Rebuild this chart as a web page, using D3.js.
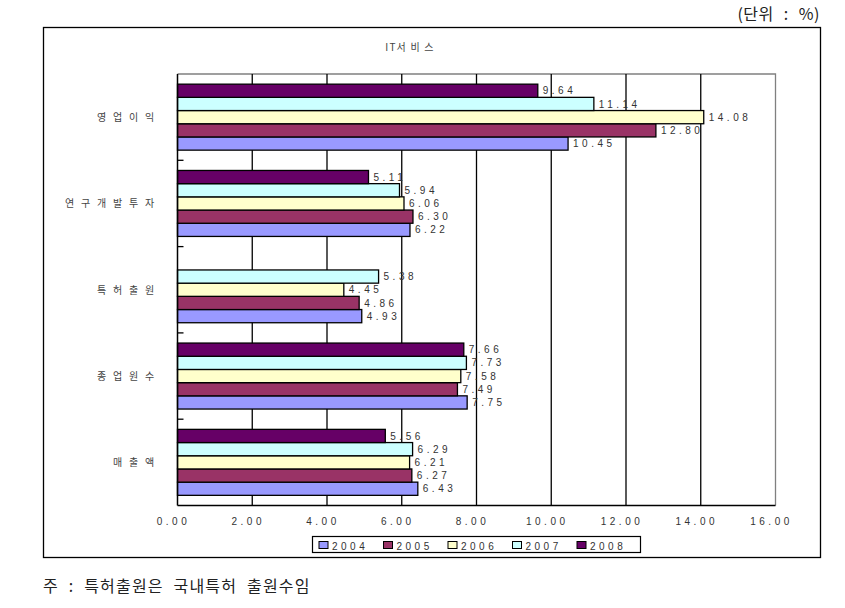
<!DOCTYPE html>
<html><head><meta charset="utf-8">
<script src="https://cdn.jsdelivr.net/npm/d3@7"></script>
<style>
body{margin:0;background:#fff;}
svg{display:block;}
</style></head>
<body>
<svg id="chart" width="845" height="608"></svg>
<script>
const categories = ["영업이익", "연구개발투자", "특허출원", "종업원수", "매출액"];
const years = ["2004", "2005", "2006", "2007", "2008"];
const v2004 = [10.45, 6.22, 4.93, 7.75, 6.43];
const v2005 = [12.80, 6.30, 4.86, 7.49, 6.27];
const v2006 = [14.08, 6.06, 4.45, 7.58, 6.21];
const v2007 = [11.14, 5.94, 5.38, 7.73, 6.29];
const v2008 = [9.64, 5.11, null, 7.66, 5.56];
const xTicks = [0, 2, 4, 6, 8, 10, 12, 14, 16];
const colors = ["#9999FF", "#993366", "#FFFFCC", "#CCFFFF", "#660066"];

const seriesVals = [v2004, v2005, v2006, v2007, v2008];
const svg = d3.select("#chart");
const latin = "Arial, 'Liberation Sans', sans-serif";
const kr = "'Noto Sans CJK KR', 'Noto Sans', sans-serif";

const L = 177.5, R = 775.5, T = 74, B = 505.5;

// outer box
svg.append("rect").attr("x", 43.5).attr("y", 27.5).attr("width", 777).attr("height", 530)
  .attr("fill", "none").attr("stroke", "#000").attr("stroke-width", 1.3);

svg.append("text").attr("x", 820).attr("y", 20).attr("text-anchor", "end")
  .attr("font-family", kr).attr("font-size", 16).attr("letter-spacing", 0.5).attr("word-spacing", 6)
  .attr("fill", "#222").text("(단위 : %)");

svg.append("text").attr("x", 410).attr("y", 51).attr("text-anchor", "middle")
  .attr("font-family", kr).attr("font-size", 10).attr("letter-spacing", 1.2).attr("fill", "#444").text("IT서 비 스");

const x = d3.scaleLinear().domain([0, 16]).range([L, R]);
const y = d3.scaleBand().domain(categories).range([T, B]).padding(0);
const yearsTB = years.slice().reverse();
const yi = d3.scaleBand().domain(yearsTB).range([0, y.bandwidth()]).paddingInner(0).paddingOuter(0.77);

// plot border (gray top/right)
svg.append("path").attr("d", `M${L},${T}H${R}V${B}`).attr("fill", "none").attr("stroke", "#808080").attr("stroke-width", 1.3);

// gridlines
svg.append("g").selectAll("line").data(xTicks.filter(d => d > 0 && d < 16)).join("line")
  .attr("x1", d => x(d)).attr("x2", d => x(d)).attr("y1", T).attr("y2", B)
  .attr("stroke", "#000").attr("stroke-width", 1.3);

// bars
const data = [];
categories.forEach((c, ci) => {
  years.forEach((yr, si) => {
    const v = seriesVals[si][ci];
    if (v != null) data.push({c, yr, si, v});
  });
});
svg.append("g").selectAll("rect").data(data).join("rect")
  .attr("x", x(0)).attr("y", d => y(d.c) + yi(d.yr))
  .attr("width", d => x(d.v) - x(0)).attr("height", yi.bandwidth())
  .attr("fill", d => colors[d.si]).attr("stroke", "#000").attr("stroke-width", 1.3);

svg.append("g").selectAll("text").data(data).join("text")
  .attr("x", d => x(d.v) + 5).attr("y", d => y(d.c) + yi(d.yr) + yi.bandwidth() / 2 + 3.6)
  .attr("font-family", latin).attr("font-size", 10).attr("letter-spacing", 3.5).attr("fill", "#333")
  .text(d => d.v.toFixed(2));

// y axis
svg.append("line").attr("x1", L).attr("x2", L).attr("y1", T).attr("y2", B).attr("stroke", "#000").attr("stroke-width", 1.5);
svg.append("line").attr("x1", L).attr("x2", R).attr("y1", B).attr("y2", B).attr("stroke", "#000").attr("stroke-width", 1.5);
svg.append("g").selectAll("line").data(categories.slice(1)).join("line")
  .attr("x1", L).attr("x2", L + 6).attr("y1", d => y(d)).attr("y2", d => y(d))
  .attr("stroke", "#000").attr("stroke-width", 1.3);

svg.append("g").selectAll("text").data(categories).join("text")
  .attr("x", 161).attr("y", d => y(d) + y.bandwidth() / 2 + 4)
  .attr("text-anchor", "end").attr("font-family", kr).attr("font-size", 10)
  .attr("letter-spacing", 6.8).attr("fill", "#444").text(d => d);

// x tick labels
svg.append("g").selectAll("text").data(xTicks).join("text")
  .attr("x", d => x(d) - 4).attr("y", 525).attr("text-anchor", "middle")
  .attr("font-family", latin).attr("font-size", 10).attr("letter-spacing", 3.5).attr("fill", "#333")
  .text(d => d.toFixed(2));

// legend
svg.append("rect").attr("x", 312.5).attr("y", 536.5).attr("width", 328).attr("height", 16)
  .attr("fill", "#fff").attr("stroke", "#000").attr("stroke-width", 1.2);
const lg = svg.append("g").selectAll("g").data(years).join("g")
  .attr("transform", (d, i) => `translate(${319 + i * 64.5},540)`);
lg.append("rect").attr("x", 0).attr("y", 1.5).attr("width", 9).attr("height", 7)
  .attr("fill", (d, i) => colors[i]).attr("stroke", "#000").attr("stroke-width", 1);
lg.append("text").attr("x", 13).attr("y", 9.5).attr("font-family", latin).attr("font-size", 10)
  .attr("letter-spacing", 3.5).attr("fill", "#333").text(d => d);

// footnote
svg.append("text").attr("x", 43).attr("y", 592).attr("font-family", kr).attr("font-size", 16)
  .attr("letter-spacing", 1.2).attr("word-spacing", 5)
  .attr("fill", "#222").text("주 : 특허출원은 국내특허 출원수임");
</script>
</body></html>
